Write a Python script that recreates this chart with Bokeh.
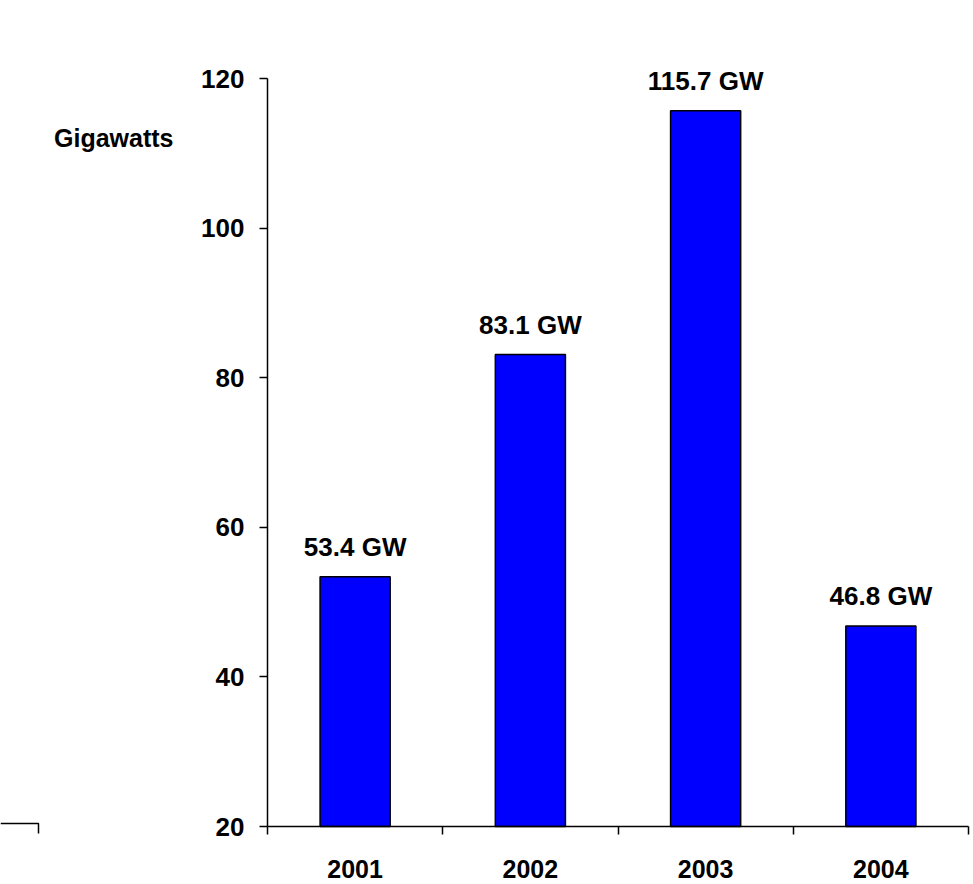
from bokeh.plotting import figure
from bokeh.models import Range1d, FixedTicker, Label, ColumnDataSource, LabelSet
from bokeh.core.properties import value
from bokeh.embed import file_html
from bokeh.resources import INLINE

years = [2001, 2002, 2003, 2004]
values = [53.4, 83.1, 115.7, 46.8]
value_labels = ["53.4 GW", "83.1 GW", "115.7 GW", "46.8 GW"]
y_ticks = [20, 40, 60, 80, 100, 120]
y_label = "Gigawatts"

FONT = "Liberation Sans"
W, H = 973, 884

# layout: axes drawn at fixed locations inside a frame that fills the canvas
AX_LEFT_PX, AX_RIGHT_PX = 267, 968
AX_TOP_PX, AX_BOTTOM_PX = 78, 826
X_LO, X_HI = 2000.5, 2004.5
Y_LO, Y_HI = 20, 120
sx = (AX_RIGHT_PX - AX_LEFT_PX) / (X_HI - X_LO)
sy = (AX_BOTTOM_PX - AX_TOP_PX) / (Y_HI - Y_LO)
x_start = X_LO - AX_LEFT_PX / sx
x_end = X_HI + (W - AX_RIGHT_PX) / sx
y_start = Y_LO - (H - AX_BOTTOM_PX) / sy
y_end = Y_HI + AX_TOP_PX / sy

def px_x(px):
    return x_start + px / sx

def px_y(py):
    return y_end - py / sy

p = figure(width=W, height=H, output_backend="svg", toolbar_location=None,
           x_range=Range1d(x_start, x_end), y_range=Range1d(y_start, y_end),
           min_border=0, min_border_left=0, min_border_right=0,
           min_border_top=0, min_border_bottom=0)
p.outline_line_color = None
p.grid.visible = False

src = ColumnDataSource(dict(x=years, top=values, lab=value_labels))
p.vbar(x="x", top="top", bottom=Y_LO, width=0.4, source=src,
       fill_color="#0000ff", line_color="black", line_width=1.5)

labels = LabelSet(x="x", y="top", text="lab", source=src, text_align="center",
                  text_baseline="bottom", y_offset=15, text_font=value(FONT),
                  text_font_style="bold", text_font_size="26px", text_color="black")
p.add_layout(labels)

xa = p.xaxis[0]
xa.fixed_location = Y_LO
xa.bounds = (X_LO, X_HI)
xa.ticker = FixedTicker(ticks=years, minor_ticks=[2000.5, 2001.5, 2002.5, 2003.5, 2004.5])
xa.major_tick_out = 0
xa.major_tick_in = 0
xa.minor_tick_out = 8
xa.minor_tick_in = 0
xa.minor_tick_line_color = "black"
xa.minor_tick_line_width = 1.5
xa.axis_line_width = 1.5
xa.major_label_standoff = 25
xa.major_label_text_font = FONT
xa.major_label_text_font_style = "bold"
xa.major_label_text_font_size = "25px"
xa.major_label_text_color = "black"

ya = p.yaxis[0]
ya.fixed_location = X_LO
ya.bounds = (Y_LO, Y_HI)
ya.ticker = FixedTicker(ticks=y_ticks)
ya.minor_tick_line_color = None
ya.major_tick_out = 8
ya.major_tick_in = 0
ya.major_tick_line_width = 1.5
ya.axis_line_width = 1.5
ya.major_label_standoff = 15
ya.major_label_text_font = FONT
ya.major_label_text_font_style = "bold"
ya.major_label_text_font_size = "26px"
ya.major_label_text_color = "black"

p.add_layout(Label(x=px_x(173), y=px_y(137), text=y_label, text_align="right",
                   text_baseline="alphabetic",
                   text_font=FONT, text_font_style="bold", text_font_size="25px",
                   text_color="black"))

# stray axis fragment at the bottom-left of the original
p.line(x=[px_x(0), px_x(38), px_x(38)], y=[px_y(823), px_y(823), px_y(833)],
       line_color="black", line_width=1.5)

open("out.html", "w").write(file_html(p, INLINE))
